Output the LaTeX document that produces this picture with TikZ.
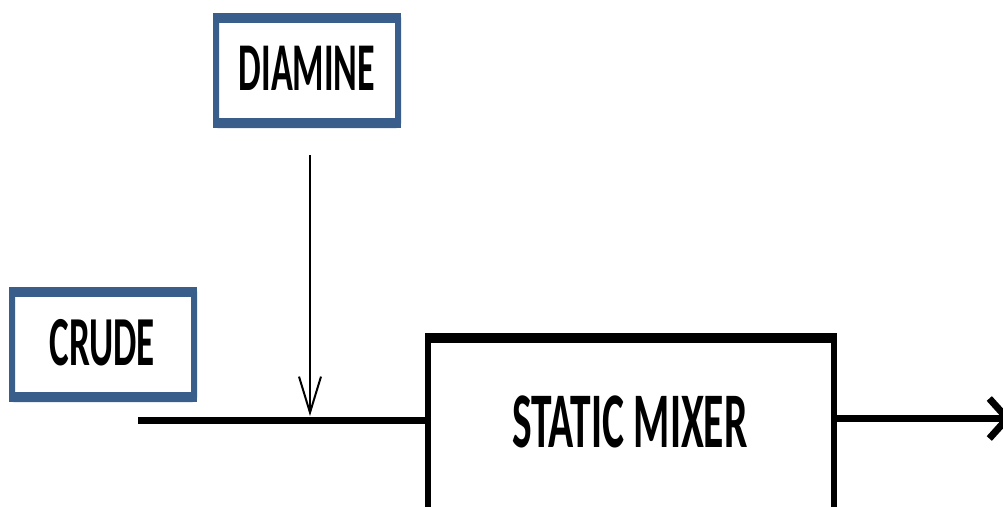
\documentclass[tikz,border=0pt]{standalone}
\usepackage{fontspec}
\setmainfont{Carlito}
\usetikzlibrary{arrows.meta}
\definecolor{feedblue}{RGB}{58,94,140}
\tikzset{
  feedbox/.style={draw=feedblue, line width=6pt, rounded corners=2pt, fill=white,
    minimum width=182pt, minimum height=109pt, inner sep=0pt, outer sep=0pt},
  mixerbox/.style={draw=black, line width=6pt, minimum width=406pt,
    minimum height=240pt, inner sep=0pt, outer sep=0pt},
  edge blue/.style={draw=feedblue, line width=10pt},
  edge black/.style={draw=black, line width=10pt},
  tall/.style={font=\bfseries, inner sep=0pt},
  pipe/.style={draw=black, line width=7pt},
  dose/.style={draw=black, line width=2pt, -{Straight Barb[length=36pt, width=22pt]}},
  outflow/.style={draw=black, line width=7pt, -{Straight Barb[length=18pt, width=40pt]}}
}
\newcommand{\tallcaps}[2]{\fontsize{#1}{#1}\selectfont\scalebox{1}[1.9]{#2}}
\begin{document}
\begin{tikzpicture}[x=1pt, y=-1pt]
  \useasboundingbox (0,0) rectangle (1003,506);

  % feed boxes with heavier top and bottom edges
  \node[feedbox] (diamine) at (307,70.5) {};
  \draw[edge blue] ([xshift=-3pt, yshift=-2pt]diamine.north west) -- ([xshift=3pt, yshift=-2pt]diamine.north east);
  \draw[edge blue] ([xshift=-3pt, yshift=2pt]diamine.south west) -- ([xshift=3pt, yshift=2pt]diamine.south east);
  \node[tall] at (307,68) {\tallcaps{36}{DIAMINE}};

  \node[feedbox] (crude) at (103,344.5) {};
  \draw[edge blue] ([xshift=-3pt, yshift=-2pt]crude.north west) -- ([xshift=3pt, yshift=-2pt]crude.north east);
  \draw[edge blue] ([xshift=-3pt, yshift=2pt]crude.south west) -- ([xshift=3pt, yshift=2pt]crude.south east);
  \node[tall] at (102,343) {\tallcaps{37}{CRUDE}};

  % static mixer, running past the lower edge
  \node[mixerbox] (mixer) at (631,457) {};
  \draw[edge black] ([xshift=-3pt, yshift=-1pt]mixer.north west) -- ([xshift=3pt, yshift=-1pt]mixer.north east);
  \node[tall] (mixlabel) at (630,422) {\tallcaps{41.5}{STATIC MIXER}};

  % crude line into the mixer
  \coordinate (feed) at (138,420.5);
  \draw[pipe] (feed) -- (feed -| mixer.west);

  % diamine dosed onto the crude line
  \coordinate (dstart) at (310,155);
  \coordinate (join) at (310,416);
  \draw[dose] (dstart) -- (join);

  % mixer outlet
  \coordinate (outlet) at (1012,418.5);
  \draw[outflow] (outlet -| mixer.east) -- (outlet);
\end{tikzpicture}
\end{document}
